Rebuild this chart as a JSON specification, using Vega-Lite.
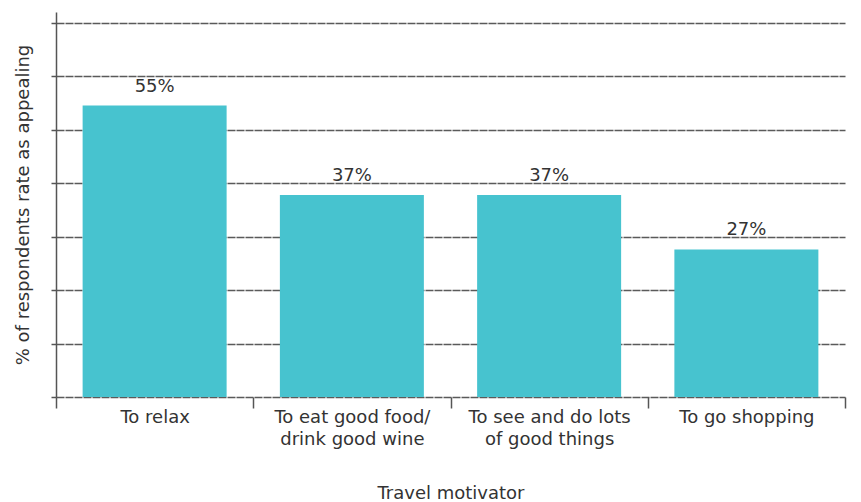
{
  "$schema": "https://vega.github.io/schema/vega-lite/v6.json",
  "autosize": {"type": "none"},
  "padding": {"left": 56, "top": 12, "right": 0, "bottom": 105},
  "width": 805,
  "height": 385,
  "background": "white",
  "data": {"values": [
    {"motivator": "To relax", "pct": 54.5, "label": "55%"},
    {"motivator": "To eat good food/ drink good wine", "pct": 37.8, "label": "37%"},
    {"motivator": "To see and do lots of good things", "pct": 37.8, "label": "37%"},
    {"motivator": "To go shopping", "pct": 27.6, "label": "27%"}
  ]},
  "config": {
    "view": {"stroke": null},
    "font": "DejaVu Sans",
    "axis": {"labelFont": "DejaVu Sans", "titleFont": "DejaVu Sans", "labelColor": "#333", "titleColor": "#333", "titleFontWeight": "normal", "labelFontSize": 18, "titleFontSize": 18}
  },
  "layer": [
    {
      "mark": {"type": "bar", "color": "#47C3CF", "width": {"band": 0.73}},
      "encoding": {
        "x": {
          "field": "motivator", "type": "nominal", "sort": null,
          "scale": {"range": [0, 789], "paddingInner": 0, "paddingOuter": 0},
          "axis": {
            "title": "Travel motivator",
            "labelAngle": 0,
            "domain": false,
            "ticks": true,
            "tickBand": "extent",
            "tickSize": 11,
            "tickColor": "#555",
            "tickWidth": 1.5,
            "labelPadding": 0,
            "labelBaseline": "top",
            "labelLineHeight": 22,
            "labelExpr": "datum.value == 'To eat good food/ drink good wine' ? ['To eat good food/', 'drink good wine'] : datum.value == 'To see and do lots of good things' ? ['To see and do lots', 'of good things'] : datum.value",
            "titlePadding": 36
          }
        },
        "y": {
          "field": "pct", "type": "quantitative",
          "scale": {"domain": [0, 72], "nice": false},
          "axis": {
            "title": "% of respondents rate as appealing",
            "values": [0, 10, 20, 30, 40, 50, 60, 70],
            "labels": false,
            "grid": true,
            "gridColor": "#5a5a5a",
            "gridDash": [8, 1],
            "gridWidth": 1.4,
            "gridOpacity": 1,
            "domain": true,
            "domainColor": "#555",
            "domainWidth": 1.5,
            "tickSize": 5,
            "tickColor": "#555",
            "tickWidth": 1.5,
            "titlePadding": 18
          }
        }
      }
    },
    {
      "mark": {"type": "text", "baseline": "alphabetic", "dy": -14, "fontSize": 18, "color": "#333", "font": "DejaVu Sans"},
      "encoding": {
        "x": {"field": "motivator", "type": "nominal", "sort": null},
        "y": {"field": "pct", "type": "quantitative"},
        "text": {"field": "label", "type": "nominal"}
      }
    }
  ]
}
